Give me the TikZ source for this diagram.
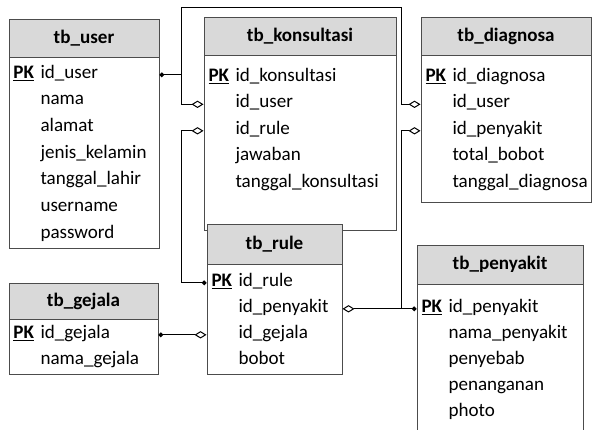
\documentclass[tikz,border=0pt]{standalone}
\usepackage{fontspec}
\setmainfont{Carlito}
\usepackage{tikz}
\usetikzlibrary{positioning,fit,arrows.meta}
\newcommand{\tblfont}{\fontsize{14.3}{17}\selectfont}
\tikzstyle{head} = [draw=black!70,fill=black!15,inner sep=0pt]
\tikzstyle{title} = [inner sep=0pt,font=\tblfont\bfseries]
\tikzstyle{body} = [draw=black!70,fill=white,inner sep=0pt]
\tikzstyle{pk} = [anchor=base west,inner sep=0pt,font=\tblfont\bfseries]
\tikzstyle{fld} = [anchor=base west,inner sep=0pt,font=\tblfont]
\tikzstyle{rel} = [{Circle[length=3.5pt]}-{Diamond[open,length=9pt,width=5.5pt]}]
\tikzstyle{fk} = [-{Diamond[open,length=9pt,width=5.5pt]}]

\begin{document}
\begin{tikzpicture}[x=0.75pt,y=-0.75pt,line width=0.75pt]
    \useasboundingbox (0,0) rectangle (598,429);
    % tables
    \node[head,fit={(9,19)(159,57)}] (user-head) {};
    \node[title] (user-name) at (user-head.center) {tb\_user};
    \node[body,fit={(9,57)(159,248)}] (user-body) {};
    \node[pk] (user-pk) at (13,78) {\underline{PK}};
    \node[fld] (user-id) at (40,78) {id\_user};
    \node[fld] (user-nama) at (40,104.7) {nama};
    \node[fld] (user-alamat) at (40,131.3) {alamat};
    \node[fld] (user-jk) at (40,158) {jenis\_kelamin};
    \node[fld] (user-tgl) at (40,184.7) {tanggal\_lahir};
    \node[fld] (user-uname) at (40,211.3) {username};
    \node[fld] (user-pass) at (40,238) {password};

    \node[head,fit={(204,17)(396,55)}] (kons-head) {};
    \node[title] (kons-name) at (kons-head.center) {tb\_konsultasi};
    \node[body,fit={(204,55)(396,230)}] (kons-body) {};
    \node[pk] (kons-pk) at (208,81) {\underline{PK}};
    \node[fld] (kons-id) at (235,81) {id\_konsultasi};
    \node[fld] (kons-iduser) at (235,107.5) {id\_user};
    \node[fld] (kons-idrule) at (235,134) {id\_rule};
    \node[fld] (kons-jawab) at (235,160.5) {jawaban};
    \node[fld] (kons-tgl) at (235,187) {tanggal\_konsultasi};

    \node[head,fit={(421,17)(591,55)}] (diag-head) {};
    \node[title] (diag-name) at (diag-head.center) {tb\_diagnosa};
    \node[body,fit={(421,55)(591,202)}] (diag-body) {};
    \node[pk] (diag-pk) at (425,81) {\underline{PK}};
    \node[fld] (diag-id) at (452,81) {id\_diagnosa};
    \node[fld] (diag-iduser) at (452,107.5) {id\_user};
    \node[fld] (diag-idsakit) at (452,134) {id\_penyakit};
    \node[fld] (diag-bobot) at (452,160.5) {total\_bobot};
    \node[fld] (diag-tgl) at (452,187) {tanggal\_diagnosa};

    \node[head,fit={(207,224)(342,264)}] (rule-head) {};
    \node[title] (rule-name) at (rule-head.center) {tb\_rule};
    \node[body,fit={(207,264)(342,374)}] (rule-body) {};
    \node[pk] (rule-pk) at (211,286) {\underline{PK}};
    \node[fld] (rule-id) at (238,286) {id\_rule};
    \node[fld] (rule-idsakit) at (238,312) {id\_penyakit};
    \node[fld] (rule-idgejala) at (238,338) {id\_gejala};
    \node[fld] (rule-bobot) at (238,364) {bobot};

    \node[head,fit={(9,283)(158,319)}] (gejala-head) {};
    \node[title] (gejala-name) at (gejala-head.center) {tb\_gejala};
    \node[body,fit={(9,319)(158,374)}] (gejala-body) {};
    \node[pk] (gejala-pk) at (13,338) {\underline{PK}};
    \node[fld] (gejala-id) at (40,338) {id\_gejala};
    \node[fld] (gejala-nama) at (40,364) {nama\_gejala};

    \node[head,fit={(417,245)(583,284)}] (sakit-head) {};
    \node[title] (sakit-name) at (sakit-head.center) {tb\_penyakit};
    \node[body,fit={(417,284)(583,440)}] (sakit-body) {};
    \node[pk] (sakit-pk) at (421,312) {\underline{PK}};
    \node[fld] (sakit-id) at (448,312) {id\_penyakit};
    \node[fld] (sakit-nama) at (448,338) {nama\_penyakit};
    \node[fld] (sakit-sebab) at (448,364) {penyebab};
    \node[fld] (sakit-tangan) at (448,390) {penanganan};
    \node[fld] (sakit-photo) at (448,416) {photo};

    % relations
    \coordinate (busL) at (181.5,7);
    \coordinate (busR) at (401.5,7);
    \draw[rel] (user-pk.mid -| user-body.east) -| (busL) -- (busR) |- (diag-iduser.mid -| diag-body.west);
    \draw[fk] (user-pk.mid -| busL) |- (kons-iduser.mid -| kons-body.west);
    \draw[rel] (rule-pk.mid -| rule-body.west) -| (busL |- kons-idrule.mid) -- (kons-idrule.mid -| kons-body.west);
    \draw[rel] (sakit-pk.mid -| sakit-body.west) -| (busR |- diag-idsakit.mid) -- (diag-idsakit.mid -| diag-body.west);
    \draw[fk] (sakit-pk.mid -| busR) -- (rule-idsakit.mid -| rule-body.east);
    \draw[rel] (gejala-pk.mid -| gejala-body.east) -- (rule-idgejala.mid -| rule-body.west);
\end{tikzpicture}
\end{document}
